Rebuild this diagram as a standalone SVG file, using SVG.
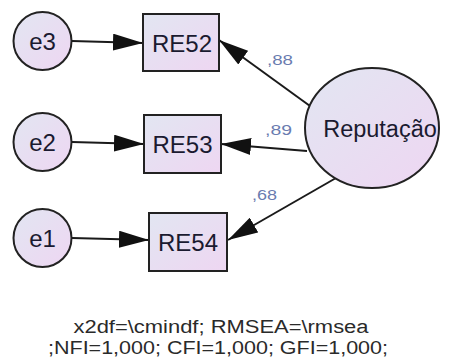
<svg xmlns="http://www.w3.org/2000/svg" width="453" height="361" viewBox="0 0 453 361">
<defs>
<linearGradient id="g" x1="0" y1="0" x2="1" y2="1">
<stop offset="0" stop-color="#e2e6f2"/>
<stop offset="1" stop-color="#eed6f2"/>
</linearGradient>
<marker id="ah" markerUnits="userSpaceOnUse" markerWidth="30" markerHeight="17" viewBox="0 0 30 17" refX="30" refY="8.5" orient="auto">
<path d="M0,0 L30,8.5 L0,17 z" fill="#111"/>
</marker>
<style>
.n{fill:url(#g);stroke:#222;stroke-width:2}
.t{font-family:"Liberation Sans",Arial,sans-serif;fill:#1a1a30;text-anchor:middle}
.c{stroke:#1a1a1a;stroke-width:2;fill:none;marker-end:url(#ah)}
.l{font-family:"Liberation Sans",Arial,sans-serif;fill:#6a7cb0;font-size:14px}
.b{font-family:"Liberation Sans",Arial,sans-serif;fill:#2a2a2a;font-size:18px;text-anchor:middle}
</style>
</defs>
<rect width="453" height="361" fill="#fff"/>
<g id="connectors">
<line class="c" x1="72" y1="41" x2="143" y2="43"/>
<line class="c" x1="72" y1="142" x2="144" y2="144"/>
<line class="c" x1="72" y1="238" x2="149" y2="240"/>
<line class="c" x1="310" y1="106" x2="219" y2="40"/>
<line class="c" x1="307" y1="151" x2="221" y2="144"/>
<line class="c" x1="336" y1="178" x2="228" y2="240"/>
<text class="l" x="267" y="65" textLength="26" lengthAdjust="spacingAndGlyphs">,88</text>
<text class="l" x="265" y="135" textLength="27" lengthAdjust="spacingAndGlyphs">,89</text>
<text class="l" x="252" y="200" textLength="25" lengthAdjust="spacingAndGlyphs">,68</text>
</g>
<g id="e3"><circle class="n" cx="42.5" cy="41" r="29"/><text class="t" x="42.5" y="49.5" font-size="24">e3</text></g>
<g id="e2"><circle class="n" cx="42.5" cy="142" r="29"/><text class="t" x="42.5" y="150.5" font-size="24">e2</text></g>
<g id="e1"><circle class="n" cx="42.5" cy="238" r="29"/><text class="t" x="42.5" y="246.5" font-size="24">e1</text></g>
<g id="RE52"><rect class="n" x="143" y="14" width="76" height="57"/><text class="t" x="182" y="51.5" font-size="24">RE52</text></g>
<g id="RE53"><rect class="n" x="144" y="115" width="77" height="58"/><text class="t" x="182.5" y="153" font-size="24">RE53</text></g>
<g id="RE54"><rect class="n" x="149" y="213" width="78" height="58"/><text class="t" x="188" y="251" font-size="24">RE54</text></g>
<g id="Reputacao"><ellipse class="n" cx="372" cy="128" rx="67" ry="60"/><text class="t" x="380" y="137" font-size="23.5">Reputação</text></g>
<g id="fit">
<text class="b" x="221" y="333" textLength="295" lengthAdjust="spacingAndGlyphs">x2df=\cmindf; RMSEA=\rmsea</text>
<text class="b" x="218" y="354" textLength="340" lengthAdjust="spacingAndGlyphs">;NFI=1,000; CFI=1,000; GFI=1,000;</text>
</g>
</svg>
